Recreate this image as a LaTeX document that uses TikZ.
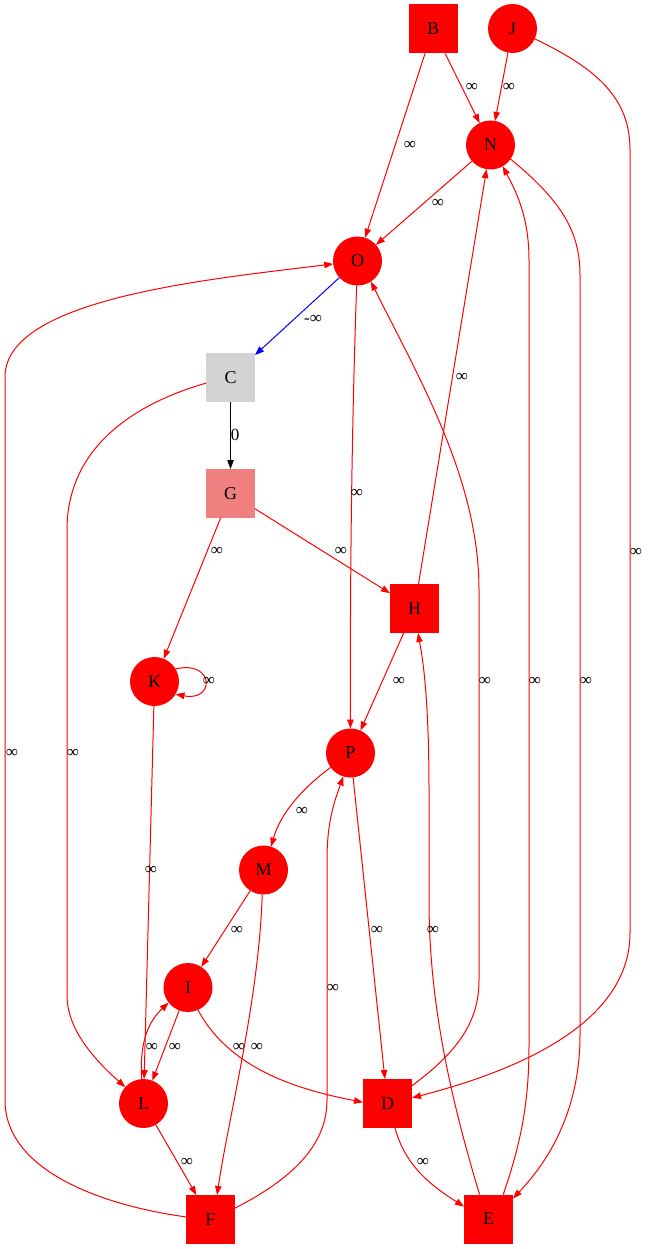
\documentclass[tikz,border=0pt]{standalone}
\usepackage{fontspec}
\setmainfont{Liberation Serif}
\usetikzlibrary{arrows.meta}
\definecolor{lightcoral}{HTML}{F08080}
\definecolor{lgray}{HTML}{D3D3D3}
\begin{document}
\begin{tikzpicture}[x=1pt,y=-1pt,
  every node/.style={inner sep=0pt, outer sep=0pt},
  circ/.style={circle, fill=red, minimum size=49pt, font=\fontsize{18}{18}\selectfont},
  sq/.style={rectangle, fill=red, minimum size=49pt, font=\fontsize{18}{18}\selectfont},
  e/.style={draw=red, line width=1pt, -{Triangle[length=9pt,width=6.5pt]}},
  lab/.style={font=\fontsize{17}{17}\selectfont}
]
\useasboundingbox (0,0) rectangle (649,1249);

% vertices
\node[sq]   (B) at (433,29)     {B};
\node[circ] (J) at (512.5,28.5) {J};
\node[circ] (N) at (490.5,145)  {N};
\node[circ] (O) at (357.5,261)  {O};
\node[sq, fill=lgray] (C) at (230.5,377.5) {C};
\node[sq, fill=lightcoral] (G) at (230.5,493.5) {G};
\node[sq]   (H) at (414.5,608.5) {H};
\node[circ] (K) at (154.5,681.5) {K};
\node[circ] (P) at (350.5,753)  {P};
\node[circ] (M) at (263.5,870)  {M};
\node[circ] (I) at (188,987.5)  {I};
\node[circ] (L) at (143.5,1103.5) {L};
\node[sq]   (D) at (387.5,1103.5) {D};
\node[sq]   (F) at (210.5,1219.5) {F};
\node[sq]   (E) at (488.5,1219)   {E};

% straight arcs
\draw[e] (B) -- (O);
\draw[e] (B) -- (N);
\draw[e] (J) -- (N);
\draw[e] (N) -- (O);
\draw[e, draw=blue, blue] (O) -- (C);
\draw[e, draw=black, black] (C) -- (G);
\draw[e] (O.268) .. controls (352,420) and (350,560) .. (P);
\draw[e] (G) -- (K);
\draw[e] (G) -- (H);
\draw[e] (H) -- (N);
\draw[e] (H) -- (P);
\draw[e] (K) -- (L);
\draw[e] (P) -- (D);
\draw[e] (M) -- (I);
\draw[e] (I) -- (L);
\draw[e] (L) -- (F);

% curved arcs
\draw[e] (K.31) .. controls (215,660) and (215,702) .. (K.329);
\draw[e] (J.335) .. controls (600,70) and (630,100) .. (630,150) -- (630,933)
         .. controls (630,1030) and (500,1075) .. (D.13);
\draw[e] (N.325) .. controls (560,200) and (580,230) .. (580,275) -- (580,1035)
         .. controls (580,1120) and (540,1170) .. (E.40);
\draw[e] (E.59) .. controls (522,1140) and (529,1100) .. (529,1045) -- (529,260)
         .. controls (529,215) and (515,190) .. (N.300);
\draw[e] (D.36) .. controls (460,1050) and (479,1020) .. (479,980) -- (479,590)
         .. controls (479,480) and (420,380) .. (O.303);
\draw[e] (E.110) .. controls (445,1080) and (429,990) .. (429,900) -- (429,790)
         .. controls (429,700) and (423,660) .. (H.278);
\draw[e] (F.25) .. controls (300,1175) and (327,1140) .. (327,1100) -- (327,860)
         .. controls (327,820) and (335,800) .. (P.253);
\draw[e] (F.174) .. controls (100,1205) and (5,1170) .. (5,1100) -- (5,377)
         .. controls (5,300) and (200,280) .. (O.187);
\draw[e] (C.193) .. controls (130,405) and (67,450) .. (67,530) -- (67,995)
         .. controls (67,1030) and (95,1060) .. (L.138);
\draw[e] (L.94) .. controls (139,1040) and (150,1020) .. (I.218);
\draw[e] (I.294) .. controls (230,1070) and (300,1090) .. (D.177);
\draw[e] (P.216) .. controls (300,790) and (280,815) .. (M.72);
\draw[e] (M.267) .. controls (259,1000) and (228,1120) .. (F.75);
\draw[e] (D.287) .. controls (405,1165) and (430,1185) .. (E.153);

% arc weights
\node[lab] (wBO) at (410,145) {∞};
\node[lab] (wBN) at (472,87)  {∞};
\node[lab] (wJN) at (509,87)  {∞};
\node[lab] (wNO) at (438,203) {∞};
\node[lab] (wOC) at (313,319) {-∞};
\node[lab] (wCG) at (235,435) {0};
\node[lab] (wOP) at (357,493) {∞};
\node[lab] (wGK) at (217,551) {∞};
\node[lab] (wGH) at (341,551) {∞};
\node[lab] (wHN) at (462,377) {∞};
\node[lab] (wJD) at (636,552) {∞};
\node[lab] (wKK) at (209,681) {∞};
\node[lab] (wHP) at (399,681) {∞};
\node[lab] (wDO) at (485,681) {∞};
\node[lab] (wEN) at (535,681) {∞};
\node[lab] (wNE) at (586,681) {∞};
\node[lab] (wFO) at (12,753)  {∞};
\node[lab] (wCL) at (73,753)  {∞};
\node[lab] (wKL) at (151,870) {∞};
\node[lab] (wPM) at (302,811) {∞};
\node[lab] (wMI) at (237,930) {∞};
\node[lab] (wPD) at (377,930) {∞};
\node[lab] (wEH) at (433,930) {∞};
\node[lab] (wFP) at (333,988) {∞};
\node[lab] (wLI) at (152,1047) {∞};
\node[lab] (wIL) at (175,1047) {∞};
\node[lab] (wID) at (239,1047) {∞};
\node[lab] (wMF) at (257,1047) {∞};
\node[lab] (wLF) at (187,1162) {∞};
\node[lab] (wDE) at (423,1162) {∞};
\end{tikzpicture}
\end{document}
